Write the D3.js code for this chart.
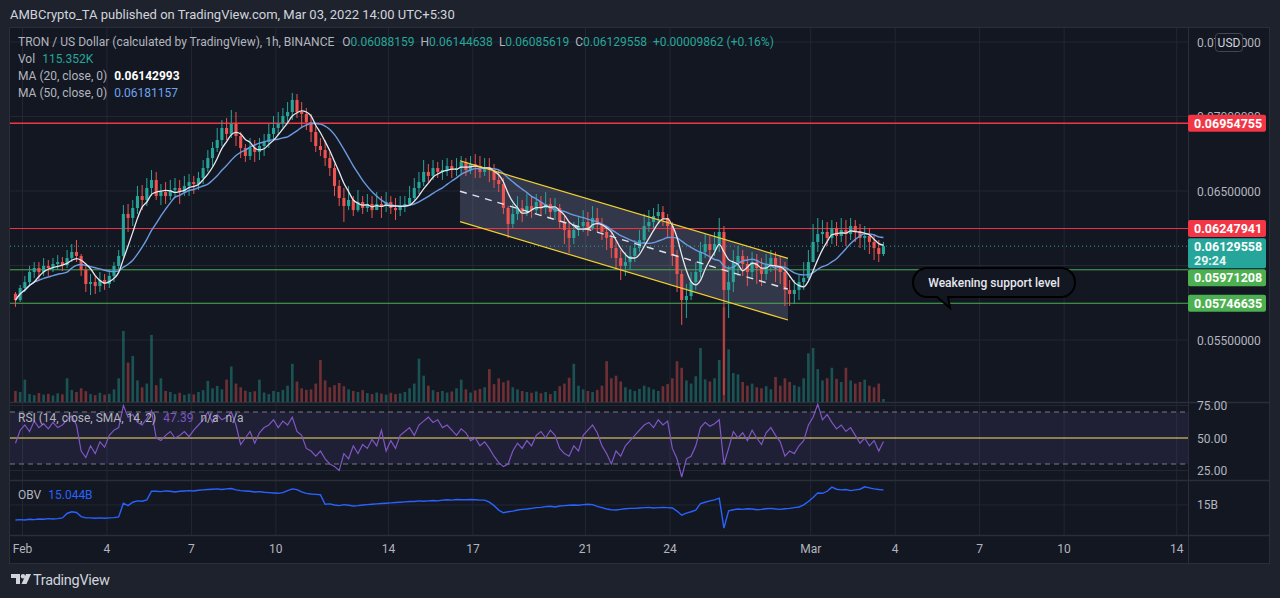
<!DOCTYPE html>
<html>
<head>
<meta charset="utf-8">
<script src="https://cdn.jsdelivr.net/npm/d3@7"></script>
<style>
html, body { margin: 0; padding: 0; background: #1e222d; overflow: hidden; }
svg { display: block; font-family: Roboto, "Noto Sans", sans-serif; }
</style>
</head>
<body>
<div id="chart"></div>
<script>
// ---- data (4h buckets) ----
var firstCandle = "2022-01-31T16:00:00Z";
var candleHours = 4;
var firstOpen = 0.05810;

var closes = [
  0.05768,0.05849,0.05889,0.05956,0.05983,0.05956,0.05997,0.05983,0.06010,0.06023,
  0.06003,0.06050,0.06091,0.06064,0.05970,0.05876,0.05889,0.05862,0.05903,0.05876,
  0.05930,0.05997,0.06064,0.06346,0.06319,0.06386,0.06466,0.06440,0.06520,0.06574,
  0.06466,0.06493,0.06466,0.06507,0.06520,0.06493,0.06534,0.06560,0.06547,0.06587,
  0.06654,0.06721,0.06789,0.06842,0.06923,0.06883,0.06950,0.06869,0.06789,0.06735,
  0.06789,0.06762,0.06802,0.06829,0.06883,0.06923,0.06950,0.07003,0.07030,0.07111,
  0.07030,0.07017,0.06963,0.06896,0.06802,0.06775,0.06721,0.06654,0.06534,0.06453,
  0.06399,0.06440,0.06372,0.06426,0.06386,0.06413,0.06372,0.06413,0.06399,0.06426,
  0.06386,0.06372,0.06399,0.06413,0.06453,0.06520,0.06560,0.06628,0.06601,0.06654,
  0.06628,0.06641,0.06668,0.06641,0.06654,0.06695,0.06641,0.06681,0.06668,0.06628,
  0.06654,0.06641,0.06574,0.06547,0.06386,0.06279,0.06346,0.06386,0.06359,0.06399,
  0.06372,0.06426,0.06386,0.06413,0.06359,0.06386,0.06292,0.06238,0.06185,0.06238,
  0.06265,0.06292,0.06252,0.06319,0.06279,0.06225,0.06185,0.06117,0.06050,0.05997,
  0.06023,0.06064,0.06117,0.06171,0.06265,0.06292,0.06332,0.06359,0.06319,0.06265,
  0.06064,0.05943,0.05768,0.05795,0.05889,0.05956,0.06091,0.06144,0.06104,0.06144,
  0.06225,0.05836,0.05889,0.06023,0.06064,0.06010,0.05956,0.06023,0.05983,0.05943,
  0.06010,0.06050,0.05997,0.05956,0.05836,0.05809,0.05836,0.05889,0.05916,0.06023,
  0.06158,0.06211,0.06225,0.06185,0.06252,0.06198,0.06238,0.06211,0.06265,0.06225,
  0.06185,0.06198,0.06158,0.06117,0.06077,0.06129558
];
var highs = [
  0.05822,0.05869,0.05930,0.05997,0.06023,0.06023,0.06050,0.06037,0.06050,0.06070,
  0.06057,0.06104,0.06144,0.06171,0.06077,0.05997,0.05943,0.05930,0.05956,0.05943,
  0.05970,0.06023,0.06104,0.06406,0.06413,0.06440,0.06534,0.06540,0.06587,0.06641,
  0.06628,0.06547,0.06560,0.06574,0.06587,0.06574,0.06601,0.06614,0.06601,0.06628,
  0.06708,0.06775,0.06829,0.06923,0.06976,0.06990,0.07044,0.07030,0.06896,0.06815,
  0.06856,0.06842,0.06856,0.06883,0.06950,0.07003,0.07030,0.07057,0.07097,0.07158,
  0.07151,0.07097,0.07057,0.07017,0.06936,0.06856,0.06842,0.06762,0.06681,0.06574,
  0.06520,0.06534,0.06466,0.06507,0.06466,0.06480,0.06466,0.06493,0.06466,0.06493,
  0.06466,0.06453,0.06466,0.06466,0.06534,0.06587,0.06628,0.06708,0.06681,0.06708,
  0.06695,0.06708,0.06721,0.06708,0.06721,0.06735,0.06721,0.06735,0.06748,0.06735,
  0.06721,0.06721,0.06681,0.06641,0.06587,0.06399,0.06413,0.06466,0.06440,0.06480,
  0.06466,0.06480,0.06466,0.06493,0.06453,0.06453,0.06413,0.06332,0.06292,0.06292,
  0.06332,0.06372,0.06359,0.06399,0.06386,0.06319,0.06265,0.06225,0.06171,0.06104,
  0.06091,0.06131,0.06171,0.06238,0.06346,0.06372,0.06386,0.06413,0.06399,0.06346,
  0.06292,0.06104,0.05970,0.05876,0.05956,0.06023,0.06158,0.06211,0.06198,0.06225,
  0.06319,0.06265,0.05997,0.06104,0.06131,0.06104,0.06064,0.06091,0.06077,0.06050,
  0.06077,0.06104,0.06091,0.06064,0.06023,0.05903,0.05903,0.05943,0.06023,0.06104,
  0.06279,0.06319,0.06305,0.06292,0.06305,0.06292,0.06319,0.06305,0.06319,0.06305,
  0.06279,0.06265,0.06252,0.06211,0.06171,0.06158
];
var lows = [
  0.05722,0.05755,0.05822,0.05862,0.05916,0.05903,0.05930,0.05930,0.05956,0.05970,
  0.05963,0.05983,0.06023,0.06023,0.05930,0.05822,0.05802,0.05809,0.05822,0.05836,
  0.05849,0.05889,0.05970,0.06050,0.06225,0.06265,0.06346,0.06372,0.06399,0.06466,
  0.06440,0.06406,0.06413,0.06440,0.06453,0.06413,0.06466,0.06466,0.06480,0.06507,
  0.06547,0.06628,0.06668,0.06762,0.06802,0.06842,0.06856,0.06802,0.06721,0.06695,
  0.06708,0.06695,0.06708,0.06735,0.06789,0.06842,0.06883,0.06923,0.06950,0.06976,
  0.06990,0.06923,0.06909,0.06829,0.06762,0.06735,0.06668,0.06601,0.06466,0.06399,
  0.06292,0.06372,0.06332,0.06359,0.06346,0.06359,0.06319,0.06372,0.06319,0.06359,
  0.06346,0.06305,0.06332,0.06359,0.06399,0.06440,0.06480,0.06534,0.06560,0.06574,
  0.06587,0.06574,0.06601,0.06587,0.06601,0.06614,0.06601,0.06614,0.06587,0.06587,
  0.06601,0.06560,0.06520,0.06493,0.06346,0.06185,0.06252,0.06305,0.06292,0.06332,
  0.06319,0.06346,0.06332,0.06346,0.06319,0.06305,0.06252,0.06144,0.06084,0.06144,
  0.06198,0.06225,0.06198,0.06238,0.06225,0.06171,0.06104,0.06050,0.05970,0.05903,
  0.05930,0.05970,0.06023,0.06091,0.06144,0.06225,0.06252,0.06279,0.06265,0.06185,
  0.05997,0.05822,0.05601,0.05648,0.05768,0.05836,0.05916,0.06050,0.06023,0.06064,
  0.06091,0.05131,0.05648,0.05822,0.05930,0.05930,0.05862,0.05916,0.05876,0.05862,
  0.05903,0.05956,0.05889,0.05876,0.05728,0.05728,0.05742,0.05768,0.05836,0.05889,
  0.06023,0.06091,0.06144,0.06131,0.06144,0.06131,0.06158,0.06131,0.06171,0.06158,
  0.06117,0.06104,0.06077,0.06037,0.06023,0.06064
];
// volume, thousands
var volumes = [
  420,380,850,300,260,340,280,310,250,330,
  290,900,460,380,520,410,300,260,350,280,
  310,480,900,2700,1500,1750,820,560,700,2550,
  640,900,420,380,300,350,270,320,290,380,
  450,800,520,610,480,850,1350,700,560,430,
  380,410,850,360,300,420,380,460,620,1450,
  780,520,460,480,700,1600,820,560,640,720,
  600,480,420,380,450,340,300,360,320,280,
  350,300,330,380,520,700,1650,1000,620,450,
  380,420,360,400,520,850,480,360,440,500,
  560,1250,680,900,750,820,560,480,420,380,
  350,400,330,380,300,420,600,700,920,1450,
  620,480,420,380,460,620,1550,900,1000,780,
  560,480,420,500,620,560,480,420,600,680,
  900,1550,1300,820,700,980,2050,860,780,900,
  1600,3600,2000,1100,1050,760,620,700,560,520,
  600,480,950,620,900,760,640,580,900,1850,
  2050,1250,820,900,1300,880,760,1300,820,700,
  760,850,620,560,700,115
];
var rsiValues = [
  46,56,60,55,63,58,61,57,62,58, 60,64,67,60,40,35,44,38,47,43,
  52,56,58,75,66,68,62,60,65,71, 50,48,52,55,50,52,55,51,56,60,
  64,70,62,68,64,66,70,60,45,50, 55,46,54,58,60,64,58,63,60,66,
  55,52,42,40,36,40,34,30,28,25, 38,34,44,38,45,42,49,44,56,40,
  48,42,52,55,58,52,60,63,66,62, 64,58,60,56,52,57,54,48,50,44,
  47,42,36,31,28,30,40,46,42,48, 44,52,55,50,56,52,42,38,36,44,
  40,52,56,60,54,44,38,30,40,36, 44,48,52,56,60,62,58,64,60,63,
  42,34,20,34,36,44,58,62,59,61, 64,30,42,55,50,54,48,56,50,45,
  54,58,52,47,36,40,38,44,48,60, 66,76,64,68,62,57,60,55,58,52,
  46,50,44,48,40,47.39
];
// on balance volume, billions
var obvValues = [
  14.956,14.957,14.956,14.958,14.957,14.959,14.958,14.960,14.959,14.960,
  14.962,14.975,14.980,14.978,14.966,14.962,14.962,14.961,14.962,14.961,
  14.962,14.963,14.965,15.005,14.998,15.008,15.012,15.011,15.015,15.040,
  15.040,15.039,15.041,15.040,15.038,15.040,15.041,15.042,15.041,15.043,
  15.044,15.045,15.046,15.047,15.045,15.047,15.048,15.044,15.042,15.041,
  15.040,15.038,15.039,15.037,15.036,15.035,15.034,15.036,15.042,15.047,
  15.045,15.038,15.034,15.032,15.031,15.030,15.002,15.003,15.000,14.998,
  15.001,14.999,14.997,14.998,15.000,15.001,15.002,15.003,15.004,15.005,
  15.006,15.007,15.008,15.009,15.010,15.010,15.012,15.011,15.012,15.013,
  15.012,15.014,15.015,15.014,15.016,15.015,15.015,15.016,15.015,15.014,
  15.014,15.008,14.998,14.985,14.977,14.980,14.982,14.985,14.987,14.988,
  14.990,14.992,14.993,14.995,14.996,14.994,14.997,14.998,14.999,15.000,
  14.999,15.001,15.002,15.001,14.996,14.992,14.988,14.986,14.985,14.987,
  14.989,14.990,14.990,14.991,14.992,14.993,14.991,14.992,14.993,14.992,
  14.991,14.982,14.970,14.976,14.980,14.985,15.004,15.008,15.012,15.015,
  15.020,14.932,14.983,14.986,14.988,14.987,14.989,14.988,14.986,14.987,
  14.989,14.990,14.988,14.987,14.989,14.990,14.992,14.994,15.000,15.010,
  15.022,15.035,15.034,15.040,15.052,15.046,15.044,15.045,15.042,15.044,
  15.046,15.053,15.050,15.047,15.045,15.044
];

var tickDates = ["2022-02-01","2022-02-04","2022-02-07","2022-02-10","2022-02-14","2022-02-17",
  "2022-02-21","2022-02-24","2022-03-01","2022-03-04","2022-03-07","2022-03-10","2022-03-14"];
var tickLabels = ["Feb","4","7","10","14","17","21","24","Mar","4","7","10","14"];
var priceTicks = [0.075, 0.070, 0.065, 0.060, 0.055];
var rsiTicks = [75, 50, 25];
var rsiBands = [70, 50, 30];
var obvTicks = [15];

var levelPrices = [0.06954755, 0.06247941, 0.05971208, 0.05746635];
var levelKinds = ["resistance", "resistance", "support", "support"];
var lastPrice = 0.06129558;

var channelDates = ["2022-02-16T13:00:00Z", "2022-02-28T04:35:00Z"];
var channelUpper = [0.06703, 0.06048];
var channelLower = [0.06294, 0.05634];

var noteDate = "2022-03-05T22:45:00Z";
var notePrice = 0.05715;
var noteText = "Weakening support level";

var legendOHLC = ["0.06088159", "0.06144638", "0.06085619", "0.06129558"];
var legendChange = "+0.00009862 (+0.16%)";
var legendVol = "115.352K";
var legendMA20 = "0.06142993";
var legendMA50 = "0.06181157";
var legendRSI = "47.39";
var legendOBV = "15.044B";
var countdown = "29:24";

// ---- layout ----
var W = 1280, H = 598;
var plotL = 10, plotR = 1188, axisR = 1269;
var mainT = 28, mainB = 402, rsiB = 480, obvB = 535, timeB = 563;
var up = "#26a69a", down = "#ef5350", grid = "#232733", axisText = "#b2b5be";

var svg = d3.select("#chart").append("svg")
    .attr("width", W)
    .attr("height", H);

svg.append("rect").attr("width", W).attr("height", H).attr("fill", "#1e222d");
svg.append("rect")
    .attr("x", 9.5).attr("y", 27.5)
    .attr("width", axisR - 9).attr("height", timeB - 27)
    .attr("fill", "#131722").attr("stroke", "#2a2e39");

var x = d3.scaleUtc()
    .domain([new Date("2022-02-01T00:00:00Z"), new Date("2022-03-14T00:00:00Z")])
    .range([22.5, 1176.7]);
var y = d3.scaleLinear().domain([0.055, 0.065]).range([340, 191]);
var yVol = d3.scaleLinear().domain([0, 3800]).range([mainB, mainB - 100]);
var yRsi = d3.scaleLinear().domain([25, 75]).range([470.5, 405.5]);
var yObv = d3.scaleLinear().domain([14.912, 15.073]).range([obvB, rsiB]);

var t0 = new Date(firstCandle).getTime();
var candles = closes.map(function (c, i) {
    return {
        t: new Date(t0 + (i * candleHours + candleHours / 2) * 3600e3),
        o: i ? closes[i - 1] : firstOpen,
        h: highs[i], l: lows[i], c: c,
        v: volumes[i], rsi: rsiValues[i], obv: obvValues[i]
    };
});

// moving averages (20h and 50h on 4h buckets)
function sma(win) {
    return closes.map(function (c, i) {
        return d3.mean(closes.slice(Math.max(0, i - win + 1), i + 1));
    });
}
var ma20 = sma(5), ma50 = sma(12);

var defs = svg.append("defs");
function clip(id, y0, y1) {
    defs.append("clipPath").attr("id", id).append("rect")
        .attr("x", plotL).attr("y", y0).attr("width", plotR - plotL).attr("height", y1 - y0);
    return "url(#" + id + ")";
}

// gridlines
var gGrid = svg.append("g");
gGrid.selectAll(".vg").data(tickDates).enter().append("line")
    .attr("x1", function (d) { return x(new Date(d)); })
    .attr("x2", function (d) { return x(new Date(d)); })
    .attr("y1", mainT).attr("y2", obvB)
    .attr("stroke", grid);
gGrid.selectAll(".hg").data(priceTicks).enter().append("line")
    .attr("x1", plotL).attr("x2", plotR)
    .attr("y1", function (d) { return y(d); }).attr("y2", function (d) { return y(d); })
    .attr("stroke", grid);
gGrid.selectAll(".rg").data([75, 25]).enter().append("line")
    .attr("x1", plotL).attr("x2", plotR)
    .attr("y1", function (d) { return yRsi(d); }).attr("y2", function (d) { return yRsi(d); })
    .attr("stroke", grid);
gGrid.selectAll(".og").data(obvTicks).enter().append("line")
    .attr("x1", plotL).attr("x2", plotR)
    .attr("y1", function (d) { return yObv(d); }).attr("y2", function (d) { return yObv(d); })
    .attr("stroke", grid);

// pane separators
[mainB, rsiB, obvB].forEach(function (yy) {
    svg.append("line").attr("x1", 9.5).attr("x2", axisR).attr("y1", yy + 0.5).attr("y2", yy + 0.5)
        .attr("stroke", "#2a2e39").attr("stroke-width", 1.5);
});
svg.append("line").attr("x1", plotR + 0.5).attr("x2", plotR + 0.5).attr("y1", mainT).attr("y2", timeB)
    .attr("stroke", "#2a2e39");

// ---- main pane ----
var main = svg.append("g").attr("clip-path", clip("clipMain", mainT, mainB));
var step = x(new Date(t0 + candleHours * 3600e3)) - x(new Date(t0));

main.selectAll(".vol").data(candles).enter().append("rect")
    .attr("x", function (d) { return x(d.t) - step * 0.28; })
    .attr("width", step * 0.56)
    .attr("y", function (d) { return yVol(d.v); })
    .attr("height", function (d) { return mainB - yVol(d.v); })
    .attr("fill", function (d) { return d.c >= d.o ? up : down; })
    .attr("opacity", 0.42);

// channel
var cx0 = x(new Date(channelDates[0])), cx1 = x(new Date(channelDates[1]));
main.append("path")
    .attr("d", "M" + cx0 + "," + y(channelUpper[0]) + "L" + cx1 + "," + y(channelUpper[1]) +
        "L" + cx1 + "," + y(channelLower[1]) + "L" + cx0 + "," + y(channelLower[0]) + "Z")
    .attr("fill", "rgba(170,172,220,0.22)");

// horizontal levels
main.selectAll(".lvl").data(levelPrices).enter().append("line")
    .attr("x1", plotL).attr("x2", plotR)
    .attr("y1", function (d) { return y(d); }).attr("y2", function (d) { return y(d); })
    .attr("stroke", function (d, i) { return levelKinds[i] === "support" ? "#4caf50" : "#f23645"; })
    .attr("stroke-width", function (d, i) { return i === 0 ? 1.5 : 1; });

main.append("line")
    .attr("x1", plotL).attr("x2", plotR)
    .attr("y1", y(lastPrice)).attr("y2", y(lastPrice))
    .attr("stroke", up).attr("stroke-dasharray", "1,3");

// candles
var cg = main.selectAll(".candle").data(candles).enter().append("g");
cg.append("line")
    .attr("x1", function (d) { return x(d.t); }).attr("x2", function (d) { return x(d.t); })
    .attr("y1", function (d) { return y(Math.max(d.h, d.o, d.c)); })
    .attr("y2", function (d) { return y(Math.min(d.l, d.o, d.c)); })
    .attr("stroke", function (d) { return d.c >= d.o ? up : down; })
    .attr("stroke-width", 1);
cg.append("rect")
    .attr("x", function (d) { return x(d.t) - step * 0.33; })
    .attr("width", step * 0.66)
    .attr("y", function (d) { return y(Math.max(d.o, d.c)); })
    .attr("height", function (d) { return Math.max(1, Math.abs(y(d.o) - y(d.c))); })
    .attr("fill", function (d) { return d.c >= d.o ? up : down; });

// moving averages
var maLine = function (arr) {
    return d3.line()
        .x(function (d, i) { return x(candles[i].t); })
        .y(function (d) { return y(d); })
        .curve(d3.curveMonotoneX)(arr);
};
main.append("path").attr("d", maLine(ma50)).attr("fill", "none")
    .attr("stroke", "#6b9be0").attr("stroke-width", 1.4);
main.append("path").attr("d", maLine(ma20)).attr("fill", "none")
    .attr("stroke", "#e6e8ee").attr("stroke-width", 1.3);

// channel lines on top
[channelUpper, channelLower].forEach(function (p) {
    main.append("line")
        .attr("x1", cx0).attr("y1", y(p[0])).attr("x2", cx1).attr("y2", y(p[1]))
        .attr("stroke", "#f2d230").attr("stroke-width", 1.2);
});
main.append("line")
    .attr("x1", cx0).attr("y1", y((channelUpper[0] + channelLower[0]) / 2))
    .attr("x2", cx1).attr("y2", y((channelUpper[1] + channelLower[1]) / 2))
    .attr("stroke", "#e0e3eb").attr("stroke-width", 1.4).attr("stroke-dasharray", "7,6");

// callout
var nx = x(new Date(noteDate)), ny = y(notePrice);
var bx = nx - 37, by = ny - 40, bw = 162, bh = 29;
svg.append("path")
    .attr("d", "M" + (bx + 14) + "," + by + "H" + (bx + bw - 14) +
        "A14,14.5 0 0 1 " + (bx + bw - 14) + "," + (by + bh) +
        "H" + (nx - 2) + "L" + nx + "," + ny + "L" + (nx - 13) + "," + (by + bh) +
        "H" + (bx + 14) + "A14,14.5 0 0 1 " + (bx + 14) + "," + by + "Z")
    .attr("fill", "#131722").attr("stroke", "#000").attr("stroke-width", 2);
svg.append("text")
    .attr("x", bx + bw / 2).attr("y", by + bh / 2 + 4.5)
    .attr("text-anchor", "middle").attr("fill", "#e6e8ee")
    .attr("font-size", 12).attr("font-weight", 500)
    .text(noteText);

// ---- RSI pane ----
var rsiG = svg.append("g").attr("clip-path", clip("clipRsi", mainB, rsiB));
rsiG.append("rect")
    .attr("x", plotL).attr("width", plotR - plotL)
    .attr("y", yRsi(rsiBands[0])).attr("height", yRsi(rsiBands[2]) - yRsi(rsiBands[0]))
    .attr("fill", "rgba(126,87,194,0.12)");
rsiG.selectAll(".band").data([rsiBands[0], rsiBands[2]]).enter().append("line")
    .attr("x1", plotL).attr("x2", plotR)
    .attr("y1", function (d) { return yRsi(d); }).attr("y2", function (d) { return yRsi(d); })
    .attr("stroke", "#787b86").attr("stroke-dasharray", "5,4");
rsiG.append("line")
    .attr("x1", plotL).attr("x2", plotR)
    .attr("y1", yRsi(rsiBands[1])).attr("y2", yRsi(rsiBands[1]))
    .attr("stroke", "#fbe463").attr("stroke-width", 1.2);
rsiG.append("path")
    .attr("d", d3.line().x(function (d) { return x(d.t); }).y(function (d) { return yRsi(d.rsi); })(candles))
    .attr("fill", "none").attr("stroke", "#7e57c2").attr("stroke-width", 1.2);

// ---- OBV pane ----
var obvG = svg.append("g").attr("clip-path", clip("clipObv", rsiB, obvB));
obvG.append("path")
    .attr("d", d3.line().x(function (d) { return x(d.t); }).y(function (d) { return yObv(d.obv); })(candles))
    .attr("fill", "none").attr("stroke", "#2962ff").attr("stroke-width", 1.4);

// ---- price tags on the axis (their rows hide the tick labels they cover) ----
var tags = [];
levelPrices.forEach(function (p, i) {
    var top = y(p) - 8.5;
    if (i === 2) top = Math.max(top, y(lastPrice) - 8 + 31); // pushed below last-price tag
    tags.push({ v: p, color: levelKinds[i] === "support" ? "#4caf50" : "#f23645", top: top, h: 17 });
});
tags.push({ v: lastPrice, color: up, top: y(lastPrice) - 8, h: 30, second: countdown });

function hidden(yy) {
    return tags.some(function (t) { return yy >= t.top + 2 && yy <= t.top + t.h; });
}

// ---- axes ----
var axisX = 1197;
svg.selectAll(".pt").data(priceTicks.filter(function (d) { return !hidden(y(d)); })).enter().append("text")
    .attr("x", axisX).attr("y", function (d) { return y(d) + 4.5; })
    .attr("fill", axisText).attr("font-size", 12)
    .text(function (d) { return d3.format(".8f")(d); });
svg.selectAll(".rt").data(rsiTicks).enter().append("text")
    .attr("x", axisX).attr("y", function (d) { return yRsi(d) + 4.5; })
    .attr("fill", axisText).attr("font-size", 12)
    .text(function (d) { return d3.format(".2f")(d); });
svg.selectAll(".ot").data(obvTicks).enter().append("text")
    .attr("x", axisX).attr("y", function (d) { return yObv(d) + 4.5; })
    .attr("fill", axisText).attr("font-size", 12)
    .text(function (d) { return d + "B"; });
svg.selectAll(".tt").data(tickDates).enter().append("text")
    .attr("x", function (d) { return x(new Date(d)); }).attr("y", 553)
    .attr("text-anchor", "middle").attr("fill", axisText).attr("font-size", 12)
    .text(function (d, i) { return tickLabels[i]; });

// USD badge
svg.append("rect").attr("x", 1215.5).attr("y", 33.5).attr("width", 27).attr("height", 18).attr("rx", 3)
    .attr("fill", "#131722").attr("stroke", "#434651");
svg.append("text").attr("x", 1229).attr("y", 47).attr("text-anchor", "middle")
    .attr("fill", "#d1d4dc").attr("font-size", 12).text("USD");

tags.forEach(function (t) {
    svg.append("rect").attr("x", plotR).attr("y", t.top).attr("width", 78).attr("height", t.h)
        .attr("rx", 2).attr("fill", t.color);
    svg.append("text").attr("x", plotR + 6).attr("y", t.top + 13)
        .attr("fill", "#fff").attr("font-size", 12.5).attr("font-weight", 700)
        .text(d3.format(".8f")(t.v));
    if (t.second) {
        svg.append("text").attr("x", plotR + 6).attr("y", t.top + 27)
            .attr("fill", "#e8f5f3").attr("font-size", 12.5).attr("font-weight", 700)
            .text(t.second);
    }
});

// ---- legends ----
svg.append("text").attr("x", 10).attr("y", 19).attr("fill", "#d1d4dc").attr("font-size", 13)
    .text("AMBCrypto_TA published on TradingView.com, Mar 03, 2022 14:00 UTC+5:30");

var l1 = svg.append("text").attr("x", 18).attr("y", 46).attr("font-size", 12).attr("fill", axisText);
l1.append("tspan").text("TRON / US Dollar (calculated by TradingView), 1h, BINANCE");
["O", "H", "L", "C"].forEach(function (k, i) {
    l1.append("tspan").attr("dx", i ? 6 : 8).text(k);
    l1.append("tspan").attr("fill", up).text(legendOHLC[i]);
});
l1.append("tspan").attr("dx", 6).attr("fill", up).text(legendChange);

var l2 = svg.append("text").attr("x", 18).attr("y", 63).attr("font-size", 12).attr("fill", axisText);
l2.append("tspan").text("Vol");
l2.append("tspan").attr("dx", 7).attr("fill", up).text(legendVol);

var l3 = svg.append("text").attr("x", 18).attr("y", 80).attr("font-size", 12).attr("fill", axisText);
l3.append("tspan").text("MA (20, close, 0)");
l3.append("tspan").attr("dx", 7).attr("fill", "#ffffff").attr("font-weight", 700).text(legendMA20);

var l4 = svg.append("text").attr("x", 18).attr("y", 97).attr("font-size", 12).attr("fill", axisText);
l4.append("tspan").text("MA (50, close, 0)");
l4.append("tspan").attr("dx", 7).attr("fill", "#6fa3ee").text(legendMA50);

var l5 = svg.append("text").attr("x", 18).attr("y", 422).attr("font-size", 12).attr("fill", axisText);
l5.append("tspan").text("RSI (14, close, SMA, 14, 2)");
l5.append("tspan").attr("dx", 7).attr("fill", "#7e57c2").text(legendRSI);
l5.append("tspan").attr("dx", 7).text("n/a");
l5.append("tspan").attr("dx", 7).text("n/a");

var l6 = svg.append("text").attr("x", 18).attr("y", 499).attr("font-size", 12).attr("fill", axisText);
l6.append("tspan").text("OBV");
l6.append("tspan").attr("dx", 7).attr("fill", "#2962ff").text(legendOBV);

// TradingView logo
var logo = svg.append("g").attr("transform", "translate(11,574)").attr("fill", "#d1d4dc");
logo.append("path").attr("d", "M0,0H9V10H5V4H0Z");
logo.append("circle").attr("cx", 12).attr("cy", 2.2).attr("r", 2.2);
logo.append("path").attr("d", "M15,0H20L15.5,10H10.5Z");
svg.append("text").attr("x", 33).attr("y", 585).attr("fill", "#d1d4dc").attr("font-size", 14.5)
    .attr("letter-spacing", -0.3).text("TradingView");
</script>
</body>
</html>
